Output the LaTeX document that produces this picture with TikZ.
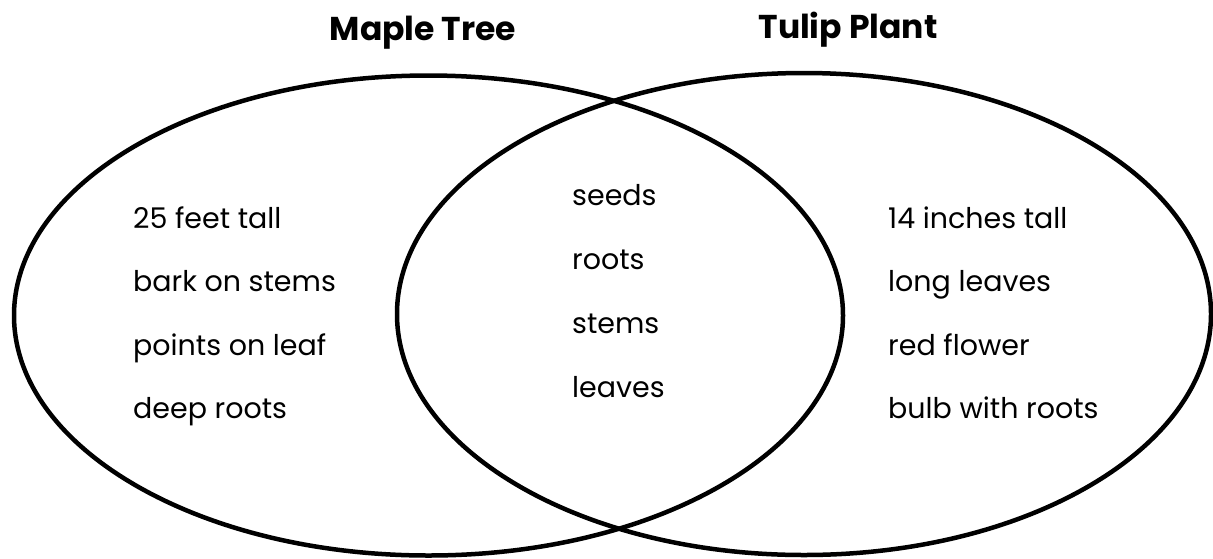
\documentclass[tikz,border=0pt]{standalone}
\usepackage{fontspec}
\setmainfont{Poppins}
\usetikzlibrary{positioning,shapes.geometric}
\tikzset{
  ring/.style={draw=black,ellipse,line width=4.5pt,inner sep=0pt},
  head/.style={font=\fontsize{33}{36}\selectfont\bfseries,anchor=base},
  item/.style={font=\fontsize{28.5}{32}\selectfont,anchor=base west,inner sep=0pt},
}
\begin{document}
\begin{tikzpicture}[x=1pt,y=-1pt]
\useasboundingbox (0,0) rectangle (1213,558);
% the two sets
\node[ring,minimum width=829pt,minimum height=480pt] (maple) at (428.5,315.5) {};
\node[ring,minimum width=814pt,minimum height=482pt] (tulip) at (804,314) {};
% titles
\node[head] (mapleT) at (423,40) {Maple Tree};
\node[head] (tulipT) at (848,38) {Tulip Plant};
% left set
\foreach \t [count=\i] in {25 feet tall,bark on stems,points on leaf,deep roots}
  \node[item] (m\i) at (133,228+63.5*\i-63.5) {\t};
% both
\foreach \t [count=\i] in {seeds,roots,stems,leaves}
  \node[item] (b\i) at (572,205+64*\i-64) {\t};
% right set
\foreach \t [count=\i] in {14 inches tall,long leaves,red flower,bulb with roots}
  \node[item] (t\i) at (888,228+63.5*\i-63.5) {\t};
\end{tikzpicture}
\end{document}
